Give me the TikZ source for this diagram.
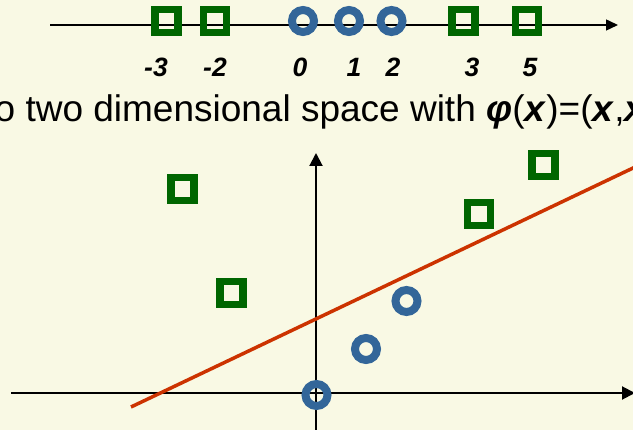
\documentclass[tikz,border=0pt]{standalone}
\usepackage{fontspec}
\setmainfont{Liberation Sans}
\usetikzlibrary{arrows.meta}
\definecolor{bgc}{RGB}{249,249,228}
\definecolor{sqgreen}{RGB}{0,102,0}
\definecolor{cblue}{RGB}{51,102,153}
\definecolor{sepred}{RGB}{204,51,0}
\begin{document}
\begin{tikzpicture}[x=1pt,y=-1pt,
  sq/.style={draw=sqgreen,line width=7.5pt,minimum size=23pt,inner sep=0pt,rectangle},
  cir/.style={draw=cblue,line width=8pt,minimum size=22pt,inner sep=0pt,circle},
  axthin/.style={line width=1.5pt,-{Triangle[length=12pt,width=11pt]}},
  axthick/.style={line width=2pt,-{Triangle[length=13pt,width=13pt]}},
  lbl/.style={anchor=base,inner sep=0pt,font=\fontsize{26.5}{30}\selectfont\bfseries\itshape},
  sepline/.style={draw=sepred,line width=3.5pt}]
\fill[bgc] (0,0) rectangle (633,430);
\useasboundingbox (0,0) rectangle (633,430);
\clip (0,0) rectangle (633,430);
% 1D axis
\coordinate (t0) at (50,25);
\coordinate (t1) at (618,25);
\draw[axthin] (t0) -- (t1);
\node[sq] (a1) at (166.5,21) {};
\node[sq] (a2) at (215,21) {};
\node[cir] (b0) at (303,21) {};
\node[cir] (b1) at (349,21) {};
\node[cir] (b2) at (391.5,21) {};
\node[sq] (a3) at (463.5,21) {};
\node[sq] (a5) at (527,21) {};
\node[lbl] (l1) at (156,77) {-3};
\node[lbl] (l2) at (215,77) {-2};
\node[lbl] (l3) at (300,77) {0};
\node[lbl] (l4) at (354,77) {1};
\node[lbl] (l5) at (393,77) {2};
\node[lbl] (l6) at (472,77) {3};
\node[lbl] (l7) at (530,77) {5};
% caption
\node[anchor=base west,inner sep=0pt] (cap) at (-5.5,121.5)
  {\fontsize{37}{40}\selectfont o two dimensional space with \textbf{\textit{φ}}(\textbf{\textit{x}})=(\textbf{\textit{x}},\textbf{\textit{x}}};
% 2D axes
\coordinate (h0) at (11,393);
\coordinate (h1) at (635,393);
\coordinate (v0) at (316,432);
\coordinate (v1) at (316,153);
\draw[axthick] (h0) -- (h1);
\draw[axthick] (v0) -- (v1);
% separating line
\coordinate (r0) at (131,407);
\coordinate (r1) at (640,164.7);
\draw[sepline] (r0) -- (r1);
% mapped points
\node[sq] (p1) at (182.5,189) {};
\node[sq] (p2) at (231.5,293) {};
\node[sq] (p3) at (479,214) {};
\node[sq] (p4) at (543.5,165) {};
\node[cir] (q0) at (316.5,395) {};
\node[cir] (q1) at (366,349) {};
\node[cir] (q2) at (406.5,301) {};
\end{tikzpicture}
\end{document}
